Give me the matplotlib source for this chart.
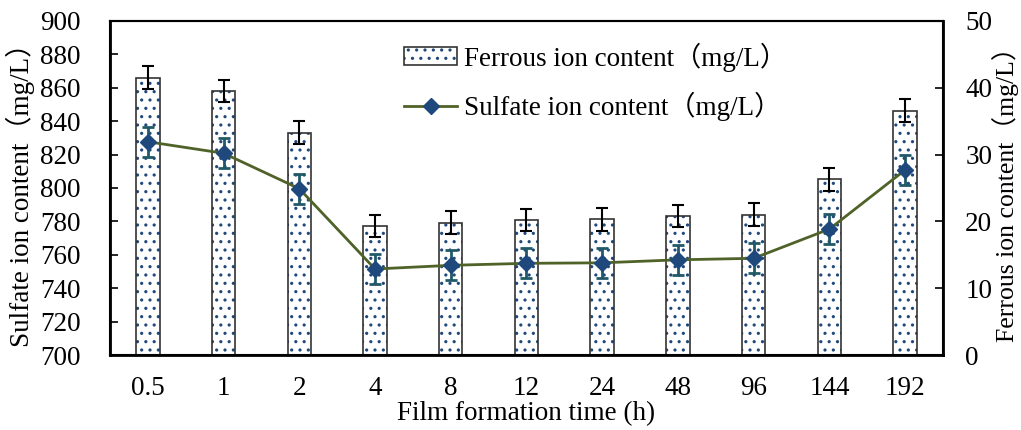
import matplotlib
matplotlib.use("Agg")
import matplotlib.pyplot as plt
from matplotlib.legend_handler import HandlerTuple
import numpy as np

categories = ["0.5", "1", "2", "4", "8", "12", "24", "48", "96", "144", "192"]
ferrous = [41.5, 39.5, 33.3, 19.3, 19.8, 20.2, 20.3, 20.8, 21.0, 26.3, 36.6]
ferrous_err = [1.7] * 11
sulfate = [827.7, 820.8, 799.6, 751.5, 753.7, 754.9, 755.2, 757.0, 757.9, 775.4, 810.8]
sulfate_err = [9.0] * 11

plt.rcParams['font.family'] = ['Liberation Serif', 'Noto Sans CJK SC']
plt.rcParams['hatch.linewidth'] = 1.1

FS = 19.5
fig = plt.figure(figsize=(10.21, 4.30), dpi=100)
ax = fig.add_axes([0.1077, 0.1744, 0.8159, 0.7768])
ax2 = ax.twinx()

x = np.arange(len(categories))
bw = 0.31
blue = '#1F497D'
bars_h = ax2.bar(x, ferrous, width=bw, color='white', edgecolor=blue, hatch='..', linewidth=0, zorder=2)
bars_e = ax2.bar(x, ferrous, width=bw, fill=False, edgecolor='#333333', linewidth=1.2, zorder=3)
ax2.errorbar(x, ferrous, yerr=ferrous_err, fmt='none', ecolor='black', elinewidth=1.5,
             capsize=4, capthick=1.5, zorder=4)

ax.errorbar(x, sulfate, yerr=sulfate_err, fmt='none', ecolor='#215968', elinewidth=2,
            capsize=4.5, capthick=2, zorder=4)
line, = ax.plot(x, sulfate, color='#4F6228', linewidth=2, marker='D', markersize=8,
                markerfacecolor=blue, markeredgecolor=blue, zorder=5)

ax.set_zorder(ax2.get_zorder() + 1)
ax.patch.set_visible(False)

ax.set_xlim(-0.5, len(categories) - 0.5)
ax.set_ylim(700, 900)
ax.set_yticks(np.arange(700, 901, 20))
ax2.set_ylim(0, 50)
ax2.set_yticks(np.arange(0, 51, 10))
ax.set_xticks(x)
ax.set_xticklabels(categories)

ax.tick_params(axis='x', length=0, labelsize=FS, pad=15)
ax.tick_params(axis='y', direction='in', length=6, width=1.2, labelsize=FS, pad=21)
ax2.tick_params(axis='y', direction='in', length=6, width=1.2, labelsize=FS, pad=16)

for a in (ax, ax2):
    for s in a.spines.values():
        s.set_linewidth(1.5)
        s.set_color('black')
ax.spines['left'].set_linewidth(2)
ax.spines['bottom'].set_linewidth(2)
ax2.spines['right'].set_linewidth(2)

ax.set_xlabel('Film formation time (h)', fontsize=FS, labelpad=0)
ax.set_ylabel('Sulfate ion content（mg/L）', fontsize=FS, labelpad=4)
ax2.set_ylabel('Ferrous ion content（mg/L）', fontsize=18.5, labelpad=0)

leg = ax.legend([(bars_h[0], bars_e[0]), line],
                ['Ferrous ion content（mg/L）', 'Sulfate ion content（mg/L）'],
                handler_map={tuple: HandlerTuple(ndivide=1, pad=0)},
                loc='upper left', bbox_to_anchor=(0.324, 1.009), frameon=False,
                fontsize=FS, labelspacing=0.75, handlelength=1.95, handleheight=0.6,
                handletextpad=0.25)

fig.savefig('out.png', dpi=100)
